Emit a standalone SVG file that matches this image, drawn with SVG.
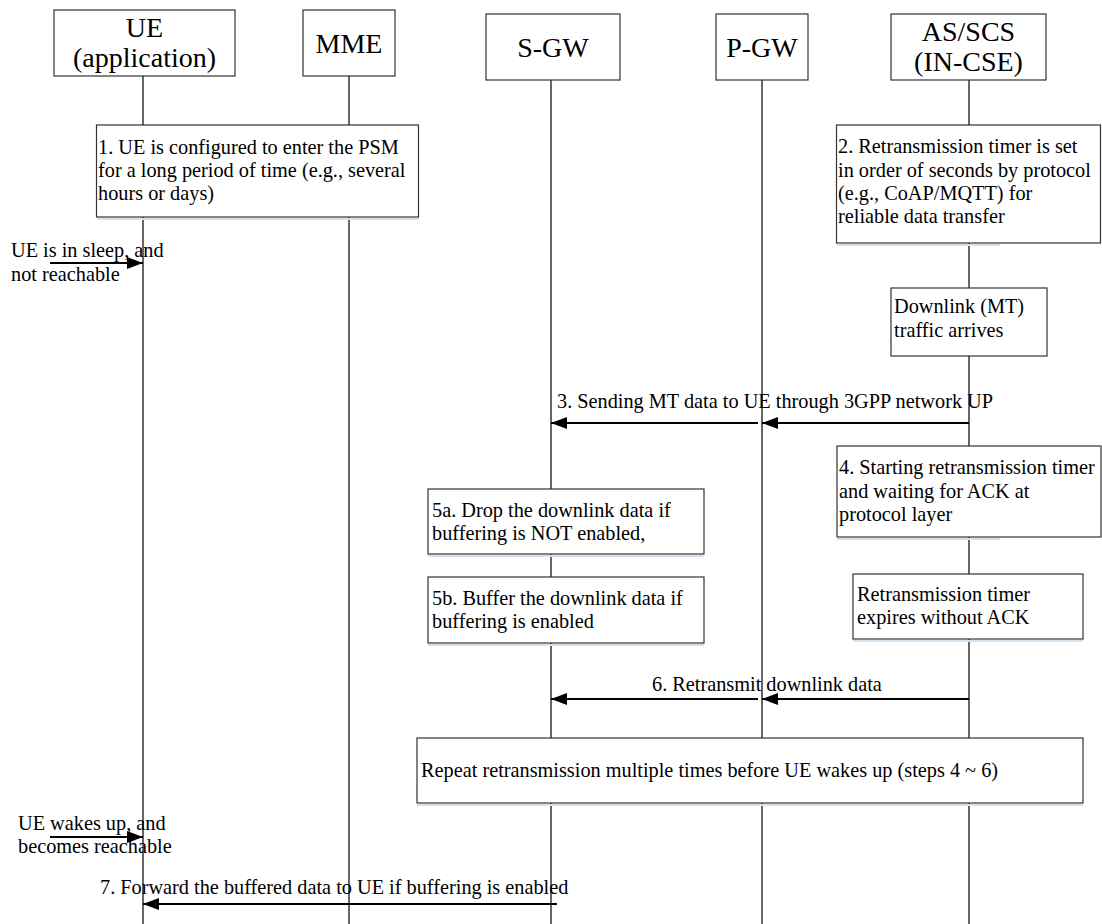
<svg xmlns="http://www.w3.org/2000/svg" width="1102" height="924" viewBox="0 0 1102 924">
  <style>
    .box { fill: #ffffff; stroke: #333333; stroke-width: 1.2; }
    .shadow { stroke: #d3e2f1; stroke-width: 2; }
    .life { stroke: #000000; stroke-width: 1.2; fill: none; }
    .msg { stroke: #000000; stroke-width: 2; fill: none; marker-end: url(#arrow); }
    .hdr { font-family: "Liberation Serif", "Times New Roman", serif; font-size: 28px; fill: #000; text-anchor: middle; }
    .txt { font-family: "Liberation Serif", "Times New Roman", serif; font-size: 20.3px; fill: #000; }
  </style>
  <defs>
    <marker id="arrow" markerWidth="16" markerHeight="12" refX="16" refY="6" orient="auto" markerUnits="userSpaceOnUse">
      <path d="M0,0 L16,6 L0,12 Z" fill="#000000"/>
    </marker>
  </defs>

  <rect width="1102" height="924" fill="#ffffff"/>

  <!-- lifelines -->
  <g id="lifelines">
    <line class="life" x1="143" y1="76" x2="143" y2="924"/>
    <line class="life" x1="349" y1="76" x2="349" y2="924"/>
    <line class="life" x1="551" y1="80" x2="551" y2="924"/>
    <line class="life" x1="762" y1="80" x2="762" y2="924"/>
    <line class="life" x1="969" y1="80" x2="969" y2="924"/>
  </g>

  <!-- participants -->
  <g id="ue">
    <rect class="box" x="54" y="10" width="181" height="66"/>
    <text class="hdr" x="144.5" y="37">UE</text>
    <text class="hdr" x="144.5" y="67">(application)</text>
  </g>
  <g id="mme">
    <rect class="box" x="303" y="10" width="92" height="66"/>
    <text class="hdr" x="349" y="53">MME</text>
  </g>
  <g id="sgw">
    <rect class="box" x="486" y="14" width="134" height="66"/>
    <text class="hdr" x="553" y="57">S-GW</text>
  </g>
  <g id="pgw">
    <rect class="box" x="716" y="14" width="92" height="66"/>
    <text class="hdr" x="762" y="57">P-GW</text>
  </g>
  <g id="as-scs">
    <rect class="box" x="891" y="14" width="155" height="66"/>
    <text class="hdr" x="968.5" y="41">AS/SCS</text>
    <text class="hdr" x="968.5" y="71">(IN-CSE)</text>
  </g>

  <!-- notes -->
  <g id="note1">
    <rect class="box" x="96.5" y="125" width="322" height="92"/>
    <line class="shadow" x1="97" y1="219" x2="419" y2="219"/>
    <text class="txt" x="98" y="154">1. UE is configured to enter the PSM</text>
    <text class="txt" x="98" y="177">for a long period of time (e.g., several</text>
    <text class="txt" x="98" y="200">hours or days)</text>
  </g>
  <g id="note2">
    <rect class="box" x="836.5" y="125" width="264" height="118"/>
    <line class="shadow" x1="837" y1="245" x2="1000" y2="245"/>
    <text class="txt" x="838" y="153">2. Retransmission timer is set</text>
    <text class="txt" x="838" y="177">in order of seconds by protocol</text>
    <text class="txt" x="838" y="200">(e.g., CoAP/MQTT) for</text>
    <text class="txt" x="838" y="223">reliable data transfer</text>
  </g>
  <g id="note-downlink">
    <rect class="box" x="891" y="288" width="156" height="68"/>
    <text class="txt" x="894" y="313">Downlink (MT)</text>
    <text class="txt" x="894" y="337">traffic arrives</text>
  </g>
  <g id="note4">
    <rect class="box" x="837" y="446" width="264" height="91"/>
    <line class="shadow" x1="837" y1="539" x2="1000" y2="539"/>
    <text class="txt" x="839" y="474">4. Starting retransmission timer</text>
    <text class="txt" x="839" y="498">and waiting for ACK at</text>
    <text class="txt" x="839" y="521">protocol layer</text>
  </g>
  <g id="note5a">
    <rect class="box" x="428" y="489" width="276" height="65"/>
    <line class="shadow" x1="428" y1="556" x2="704" y2="556"/>
    <text class="txt" x="432" y="517">5a. Drop the downlink data if</text>
    <text class="txt" x="432" y="540">buffering is NOT enabled,</text>
  </g>
  <g id="note-expire">
    <rect class="box" x="853" y="574" width="230" height="65"/>
    <line class="shadow" x1="853" y1="641" x2="1083" y2="641"/>
    <text class="txt" x="857" y="601">Retransmission timer</text>
    <text class="txt" x="857" y="624">expires without ACK</text>
  </g>
  <g id="note5b">
    <rect class="box" x="428" y="577" width="276" height="66"/>
    <line class="shadow" x1="428" y1="645" x2="704" y2="645"/>
    <text class="txt" x="432" y="605">5b. Buffer the downlink data if</text>
    <text class="txt" x="432" y="628">buffering is enabled</text>
  </g>
  <g id="note-repeat">
    <rect class="box" x="417" y="738" width="666" height="65"/>
    <line class="shadow" x1="417" y1="805" x2="1083" y2="805"/>
    <text class="txt" x="421" y="777">Repeat retransmission multiple times before UE wakes up (steps 4 ~ 6)</text>
  </g>

  <!-- side labels -->
  <g id="label-sleep">
    <text class="txt" x="11" y="257">UE is in sleep, and</text>
    <text class="txt" x="11" y="281">not reachable</text>
  </g>
  <g id="label-wake">
    <text class="txt" x="18" y="830">UE wakes up, and</text>
    <text class="txt" x="18" y="853">becomes reachable</text>
  </g>

  <!-- message labels -->
  <g id="labels">
    <text class="txt" x="557" y="408">3. Sending MT data to UE through 3GPP network UP</text>
    <text class="txt" x="652" y="691">6. Retransmit downlink data</text>
    <text class="txt" x="100" y="894">7. Forward the buffered data to UE if buffering is enabled</text>
  </g>

  <!-- connectors -->
  <g id="connectors">
    <line class="msg" x1="50" y1="263" x2="143" y2="263"/>
    <line class="msg" x1="969" y1="423" x2="762" y2="423"/>
    <line class="msg" x1="758" y1="423" x2="551" y2="423"/>
    <line class="msg" x1="969" y1="699" x2="762" y2="699"/>
    <line class="msg" x1="758" y1="699" x2="551" y2="699"/>
    <line class="msg" x1="50" y1="837" x2="143" y2="837"/>
    <line class="msg" x1="557" y1="904" x2="143" y2="904"/>
  </g>
</svg>
